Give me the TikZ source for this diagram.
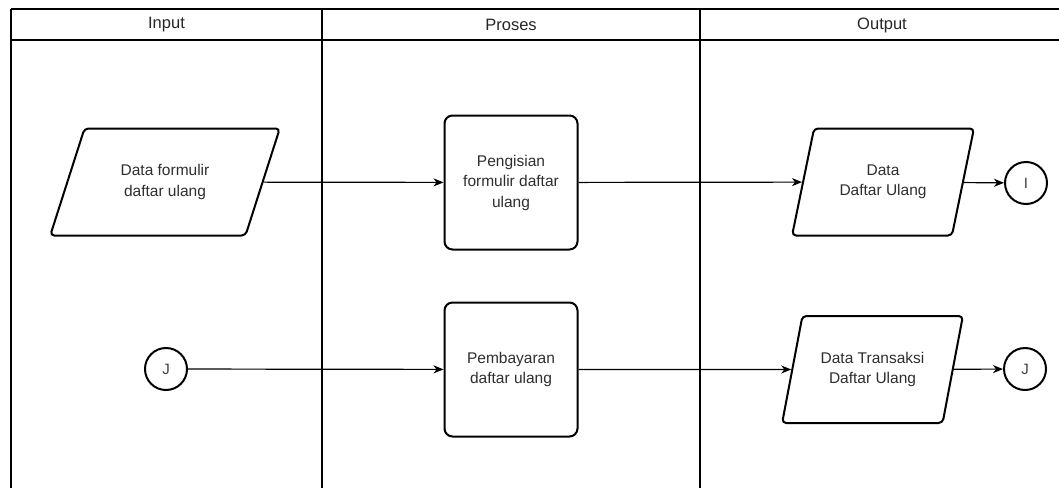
\documentclass[tikz,border=0pt]{standalone}
\usepackage{fontspec}
\setmainfont{Liberation Sans}
\usetikzlibrary{shapes.geometric,arrows.meta,positioning}

\begin{document}
\begin{tikzpicture}[x=1pt,y=-1pt,
    garis/.style={line width=1.3pt},
    judul/.style={font=\fontsize{16.5}{20}\selectfont, text=black!85},
    datashape/.style={draw, line width=2pt, trapezium, trapezium stretches=true,
        rounded corners=4pt, align=center, minimum height=107pt,
        font=\fontsize{15.5}{20.5}\selectfont, text=black!82},
    prosesbox/.style={draw, line width=2pt, rounded corners=8pt, align=center,
        minimum width=133pt, minimum height=134pt,
        font=\fontsize{15.5}{20.5}\selectfont, text=black!82},
    konektor/.style={draw, circle, line width=2pt, minimum size=42pt, inner sep=0pt,
        font=\fontsize{15}{18}\selectfont, text=black!75},
    panah/.style={line width=1.2pt, -{Stealth[length=10pt,width=8pt,inset=3pt]}}
]
    \useasboundingbox (0,0) rectangle (1059,487);

    % kolom
    \draw[garis] (11,9) -- (1060,9);
    \draw[garis] (11,40) -- (1060,40);
    \draw[garis] (11,9) -- (11,488);
    \draw[garis] (322,9) -- (322,488);
    \draw[garis] (700,9) -- (700,488);
    \node[judul] (hInput) at (166.5,25) {Input};
    \node[judul] (hProses) at (511,25) {Proses};
    \node[judul] (hOutput) at (882,25) {Output};

    % baris 1
    \node[datashape, trapezium left angle=64, trapezium right angle=116,
          minimum width=230pt] (formulir) at (165,182) {Data formulir\\daftar ulang};
    \node[prosesbox] (pengisian) at (511,182.5) {Pengisian\\formulir daftar\\ulang};
    \node[datashape, trapezium left angle=70, trapezium right angle=110,
          minimum width=182pt] (dataDU) at (883,182) {Data\\Daftar Ulang};
    \node[konektor] (conI) at (1026,183) {I};

    % baris 2
    \node[konektor] (conJa) at (166,369) {J};
    \node[prosesbox] (pembayaran) at (511,369.5) {Pembayaran\\daftar ulang};
    \node[datashape, trapezium left angle=69, trapezium right angle=111,
          minimum width=181pt] (transaksi) at (872.5,369.5) {Data Transaksi\\Daftar Ulang};
    \node[konektor] (conJb) at (1025,369) {J};

    \draw[panah] (formulir) -- (pengisian);
    \draw[panah] (pengisian) -- (dataDU);
    \draw[panah] (dataDU) -- (conI);
    \draw[panah] (conJa) -- (pembayaran);
    \draw[panah] (pembayaran) -- (transaksi);
    \draw[panah] (transaksi) -- (conJb);
\end{tikzpicture}
\end{document}
